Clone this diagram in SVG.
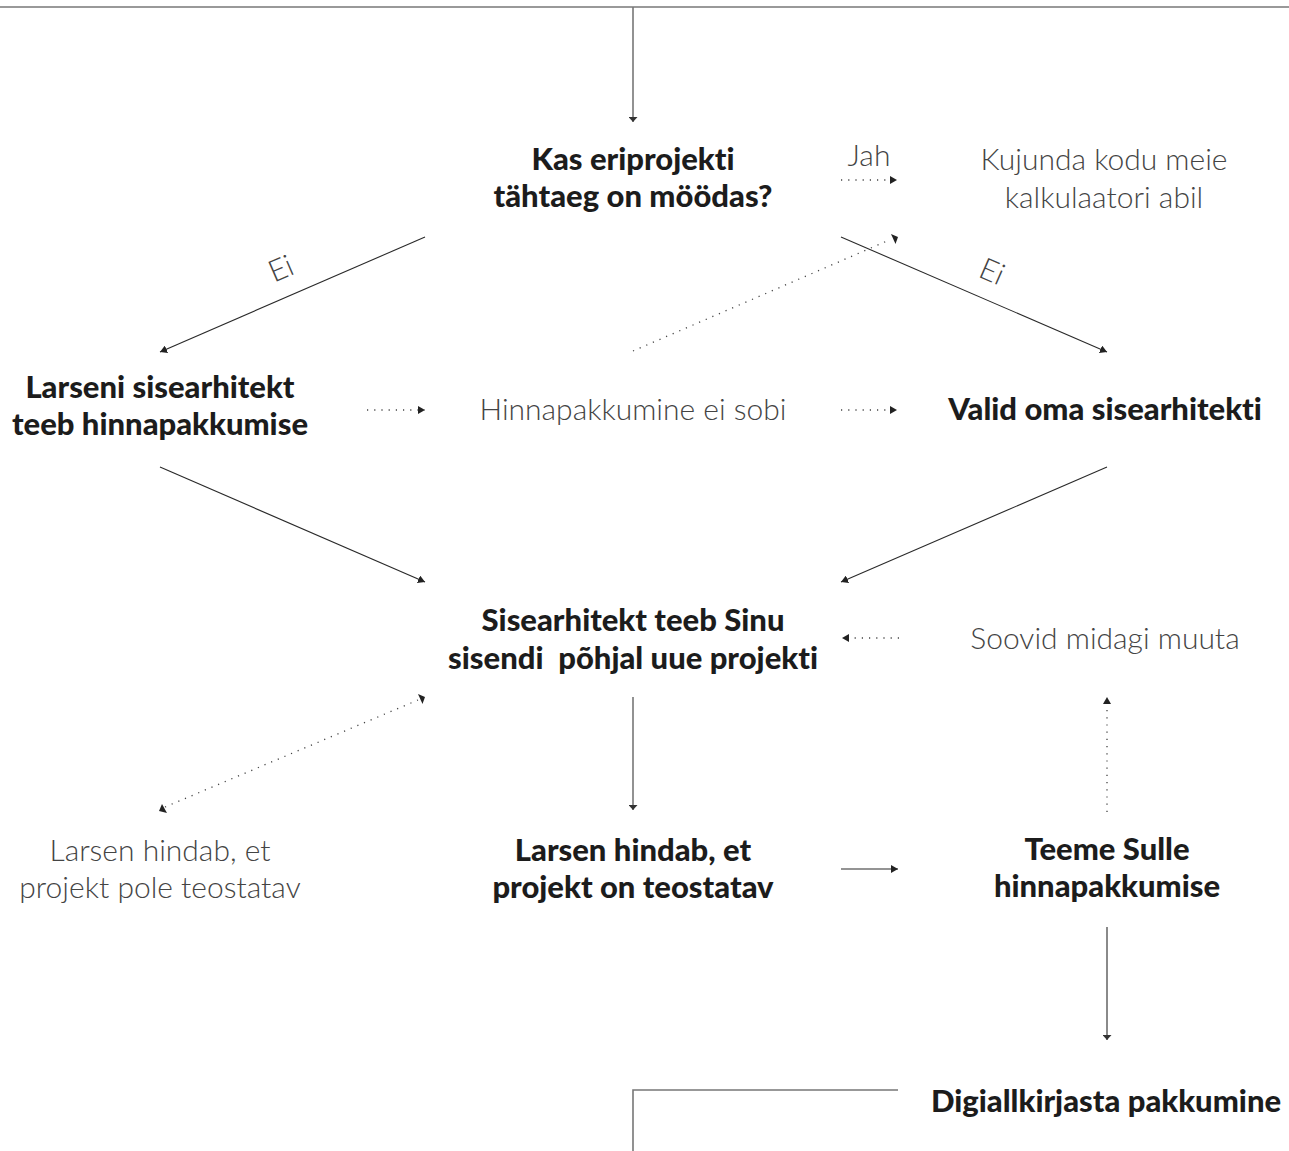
<svg xmlns="http://www.w3.org/2000/svg" width="1289" height="1151" viewBox="0 0 1289 1151">
<style>
text{font-variant-ligatures:none;font-feature-settings:"liga" 0}
.b{font-family:Lato,"Liberation Sans",sans-serif;font-weight:900;font-size:31px;fill:#1c1c1c;text-anchor:middle}
.l{font-family:Lato,"Liberation Sans",sans-serif;font-weight:300;font-size:30px;fill:#444;text-anchor:middle}
.s{fill:none;stroke:#2a2a2a;stroke-width:1.1}
.g{fill:none;stroke:#777;stroke-width:1.6}
.d{fill:none;stroke:#444;stroke-width:1.3;stroke-dasharray:1.2 6}
.h{fill:#222}
</style>
<defs>
<marker id="a" viewBox="0 0 7 8" refX="7" refY="4" markerWidth="7" markerHeight="8" markerUnits="userSpaceOnUse" orient="auto"><path d="M0,0L7,4L0,8z" fill="#222"/></marker>
<marker id="ag" viewBox="0 0 5 9" refX="5" refY="4.5" markerWidth="5" markerHeight="9" markerUnits="userSpaceOnUse" orient="auto"><path d="M0,0L5,4.5L0,9z" fill="#333"/></marker>
</defs>
<g id="connectors">
<line class="g" x1="0" y1="7" x2="1289" y2="7"/>
<line class="g" x1="633" y1="7" x2="633" y2="122" marker-end="url(#ag)"/>
<line class="d" x1="841" y1="180" x2="897" y2="180" marker-end="url(#a)"/>
<line class="s" x1="425" y1="237" x2="160" y2="352" marker-end="url(#a)"/>
<line class="s" x1="841" y1="237" x2="1107" y2="352" marker-end="url(#a)"/>
<line class="d" x1="633" y1="351" x2="887" y2="241"/>
<polygon class="h" points="891,234 898,237 895.5,244"/>
<line class="d" x1="367" y1="410" x2="425" y2="410" marker-end="url(#a)"/>
<line class="d" x1="841" y1="410" x2="897" y2="410" marker-end="url(#a)"/>
<line class="s" x1="160" y1="467" x2="425" y2="582" marker-end="url(#a)"/>
<line class="s" x1="1107" y1="467" x2="841" y2="582" marker-end="url(#a)"/>
<line class="d" x1="899" y1="638" x2="842" y2="638" marker-end="url(#a)"/>
<line class="d" x1="1107" y1="812" x2="1107" y2="697" marker-end="url(#a)"/>
<line class="d" x1="165" y1="807" x2="418" y2="700"/>
<polygon class="h" points="418,694 425,697 422.5,704"/>
<polygon class="h" points="162,804 159,811 167,813"/>
<line class="g" x1="633" y1="697" x2="633" y2="810" marker-end="url(#ag)"/>
<line class="s" x1="841" y1="869" x2="898" y2="869" marker-end="url(#a)"/>
<line class="s" x1="1107" y1="927" x2="1107" y2="1040" marker-end="url(#ag)"/>
<polyline class="g" points="898,1090 633,1090 633,1151"/>
<text class="l" x="869" y="166">Jah</text>
<text class="l" transform="translate(285,278) rotate(-23.5)" x="0" y="0">Ei</text>
<text class="l" transform="translate(988,281) rotate(23.5)" x="0" y="0">Ei</text>
</g>
<g id="n-kas"><text class="b" x="633" y="170">Kas eriprojekti</text><text class="b" x="633" y="207">tähtaeg on möödas?</text></g>
<g id="n-kujunda"><text class="l" x="1104" y="170">Kujunda kodu meie</text><text class="l" x="1104" y="208">kalkulaatori abil</text></g>
<g id="n-larseni"><text class="b" x="160" y="398">Larseni sisearhitekt</text><text class="b" x="160" y="435">teeb hinnapakkumise</text></g>
<g id="n-sobi"><text class="l" x="633" y="420" fill="#555">Hinnapakkumine ei sobi</text></g>
<g id="n-valid"><text class="b" x="1105" y="420">Valid oma sisearhitekti</text></g>
<g id="n-sisearhitekt"><text class="b" x="633" y="631" xml:space="preserve">Sisearhitekt teeb Sinu</text><text class="b" x="633" y="669" xml:space="preserve" style="white-space:pre">sisendi  põhjal uue projekti</text></g>
<g id="n-soovid"><text class="l" x="1105" y="649">Soovid midagi muuta</text></g>
<g id="n-pole"><text class="l" x="160" y="861">Larsen hindab, et</text><text class="l" x="160" y="898">projekt pole teostatav</text></g>
<g id="n-on"><text class="b" x="633" y="861">Larsen hindab, et</text><text class="b" x="633" y="898">projekt on teostatav</text></g>
<g id="n-teeme"><text class="b" x="1107" y="860">Teeme Sulle</text><text class="b" x="1107" y="897">hinnapakkumise</text></g>
<g id="n-digi"><text class="b" x="1106" y="1112">Digiallkirjasta pakkumine</text></g>
</svg>
